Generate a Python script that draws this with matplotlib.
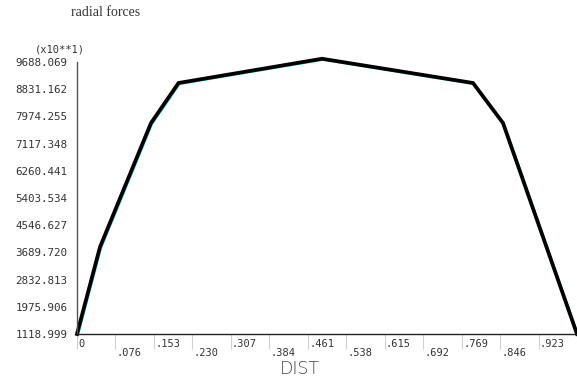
import matplotlib
matplotlib.use("Agg")
import matplotlib.pyplot as plt
import matplotlib.transforms as mtransforms

# radial force along the distance
dist = [0.0, 0.046, 0.148, 0.203, 0.490, 0.792, 0.852, 1.0]
force = [1118.999, 3860.0, 7766.0, 9027.0, 9790.0, 9027.0, 7766.0, 1118.999]

y_ticks = [1118.999, 1975.906, 2832.813, 3689.720, 4546.627, 5403.534,
           6260.441, 7117.348, 7974.255, 8831.162, 9688.069]
x_ticks = [0, .076, .153, .230, .307, .384, .461, .538, .615, .692, .769, .846, .923]
x_labels = ["0", ".076", ".153", ".230", ".307", ".384", ".461",
            ".538", ".615", ".692", ".769", ".846", ".923"]

mono = "DejaVu Sans Mono"

fig = plt.figure(figsize=(5.77, 3.81), dpi=100)
ax = fig.add_axes([77 / 577, 1 - 334 / 381, 1 - 77 / 577, (334 - 62) / 381])

# faint cyan trace sitting just under the black curve
shift = mtransforms.offset_copy(ax.transData, fig=fig, x=1.0, y=-1.0, units="dots")
ax.plot(dist, force, color="#30d0d0", lw=1.6, transform=shift, clip_on=False)
ax.plot(dist, force, color="black", lw=2.7, solid_joinstyle="miter", clip_on=False)

ax.set_xlim(0, 1.0)
ax.set_ylim(y_ticks[0], y_ticks[-1])

for s in ["top", "right"]:
    ax.spines[s].set_visible(False)
ax.spines["left"].set_color("#555555")
ax.spines["bottom"].set_color("#222222")
ax.spines["left"].set_linewidth(1.0)
ax.spines["bottom"].set_linewidth(1.0)

ax.set_yticks(y_ticks)
ax.set_yticklabels(["%.3f" % v for v in y_ticks], fontsize=7.8, family=mono, color="#333333")
ax.tick_params(axis="y", length=0, pad=7)

ax.set_xticks(x_ticks)
ax.set_xticklabels([])
ax.tick_params(axis="x", length=11, color="#d0d0d0", width=0.8, direction="out")

# staggered x labels, left-aligned at each tick
trans = mtransforms.blended_transform_factory(ax.transData, ax.transAxes)
for i, (xv, lab) in enumerate(zip(x_ticks, x_labels)):
    yv = -0.035 if i % 2 == 0 else -0.070
    ax.text(xv + 0.003, yv, lab, transform=trans, ha="left", va="center",
            fontsize=7.5, family=mono, color="#333333")

ax.text(0.446, -0.13, "DIST", transform=ax.transAxes, ha="center", va="center",
        fontsize=12.5, family="DejaVu Sans", color="#444444", fontweight="light")

fig.text(60 / 577, 1 - 49 / 381, "(x10**1)", ha="center", va="center",
         fontsize=7.5, family=mono, color="#333333")
fig.text(106 / 577, 1 - 12 / 381, "radial forces", ha="center", va="center",
         fontsize=10, family="Liberation Serif", color="#333333")

fig.savefig("out.png", dpi=100, facecolor="white")
